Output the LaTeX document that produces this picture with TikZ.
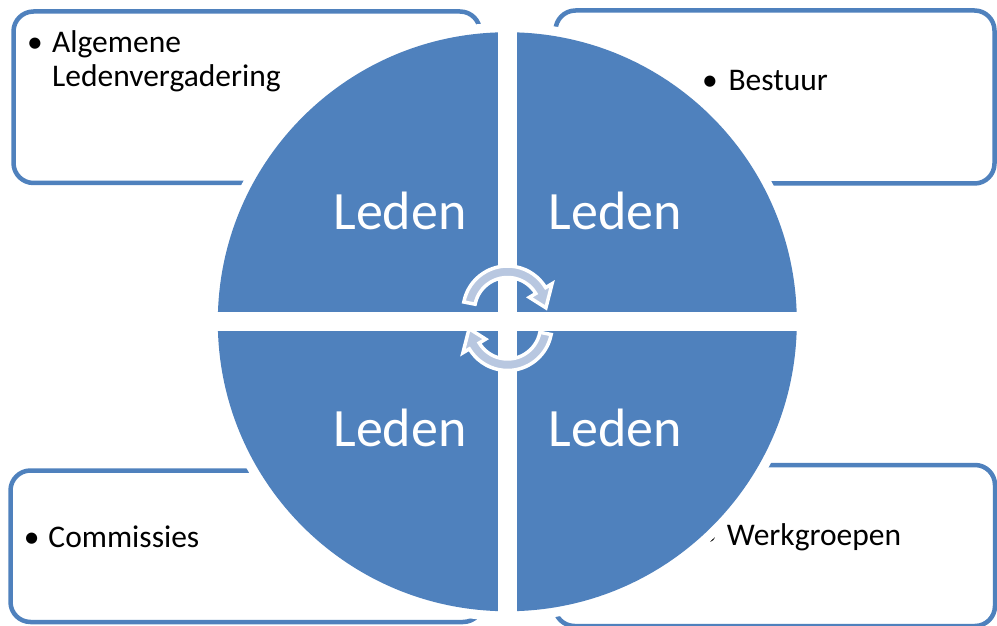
\documentclass[tikz,border=0pt]{standalone}
\usepackage{fontspec}
\setmainfont{Carlito}
\definecolor{accent}{HTML}{4F81BD}
\definecolor{arrowfill}{HTML}{B8C7E0}
\begin{document}
\begin{tikzpicture}[x=1pt,y=1pt,
  panel/.style={draw=accent, line width=4.5pt, rounded corners=20pt, fill=white, inner sep=0pt},
  itemtext/.style={anchor=base west, inner sep=0pt, font=\fontsize{31.5}{34}\selectfont},
  bulletmark/.style={anchor=base, inner sep=0pt, font=\fontsize{31.5}{34}\selectfont},
  quadlabel/.style={anchor=base, inner sep=0pt, text=white, font=\fontsize{54}{60}\selectfont},
  cyclearrow/.style={fill=arrowfill, draw=white, line width=3.5pt, line join=miter}]
\useasboundingbox (0,0) rectangle (997,625);

% corner panels
\node[panel, minimum width=466.5pt, minimum height=171.5pt] (p1) at (246.75,527.75) {};
\node[panel, minimum width=439pt, minimum height=173pt] (p2) at (775,528) {};
\node[panel, minimum width=472.5pt, minimum height=151.5pt] (p3) at (246.75,78.75) {};
\node[panel, minimum width=440.5pt, minimum height=161pt] (p4) at (774.75,79.5) {};

% panel texts
\node[bulletmark] (b1) at (35,572) {•};
\node[itemtext] (t1a) at (52,572) {Algemene};
\node[itemtext] (t1b) at (52,538.5) {Ledenvergadering};
\node[bulletmark] (b2) at (710,534) {•};
\node[itemtext] (t2) at (728.3,534) {Bestuur};
\node[bulletmark] (b3) at (31.7,77.5) {•};
\node[itemtext] (t3) at (48.3,77.5) {Commissies};
\node[bulletmark] (b4) at (709.5,80) {•};
\node[itemtext] (t4) at (726.7,80) {Werkgroepen};

% central disc split into four quadrants
\coordinate (c) at (507.3,303.25);
\fill[white] (c) circle (299);
\fill[accent] (c) circle (289.5);
\draw[white, line width=19pt] (c) ++(0,-299) -- ++(0,598);
\draw[white, line width=19pt] (c) ++(-299,0) -- ++(598,0);

% quadrant labels
\node[quadlabel] (q1) at (400,395) {Leden};
\node[quadlabel] (q2) at (615.5,395) {Leden};
\node[quadlabel] (q3) at (400,179) {Leden};
\node[quadlabel] (q4) at (615.5,179) {Leden};

% cycle arrows in the middle
\begin{scope}[shift={(507.5,314.5)}]
  \path[cyclearrow] (169:44.5) arc[start angle=169, end angle=31, radius=44.5]
    -- (31:52) -- (4:38.5) -- (31:25.5) -- (31:33)
    arc[start angle=31, end angle=169, radius=33] -- cycle;
\end{scope}
\begin{scope}[shift={(507.5,299)}, rotate=180]
  \path[cyclearrow] (169:44.5) arc[start angle=169, end angle=31, radius=44.5]
    -- (31:52) -- (4:38.5) -- (31:25.5) -- (31:33)
    arc[start angle=31, end angle=169, radius=33] -- cycle;
\end{scope}
\end{tikzpicture}
\end{document}
